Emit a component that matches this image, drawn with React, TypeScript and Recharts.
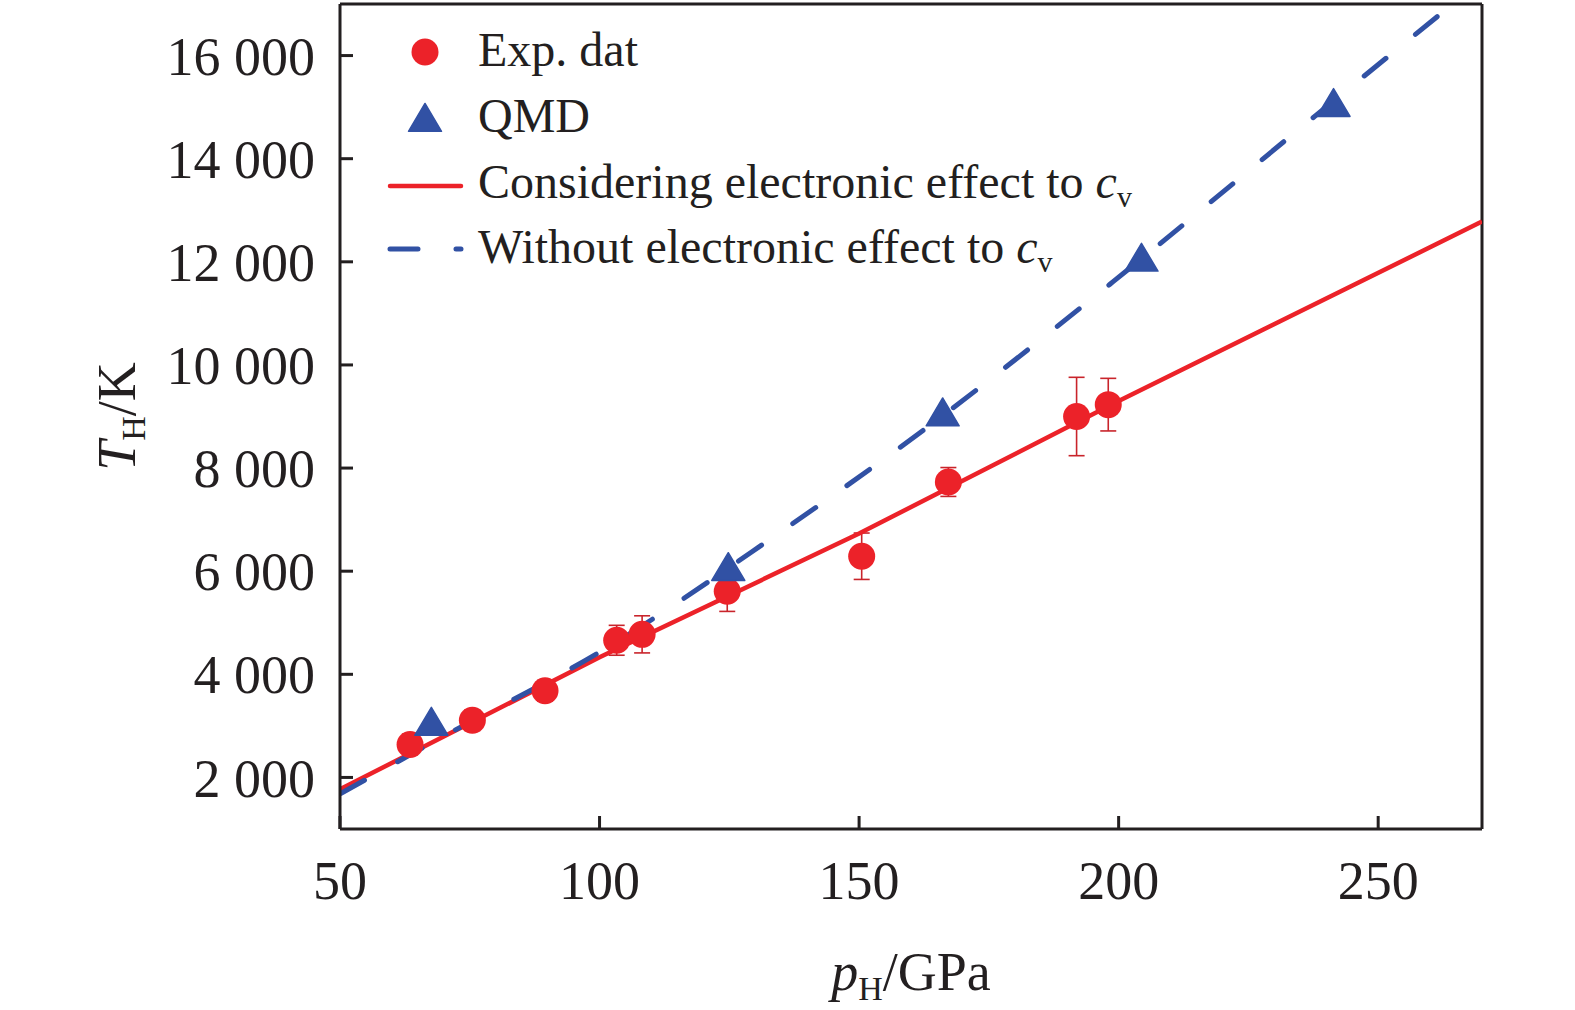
import React from 'react';
import { ComposedChart, Scatter, Line, XAxis, YAxis, ErrorBar, ReferenceLine } from 'recharts';

const RED = '#EC2229';
const ERR_RED = '#C9242B';
const BLUE = '#3151A4';
const INK = '#231F20';
const FONT = '"Liberation Serif", "Times New Roman", serif';

// Experimental data (pressure GPa, temperature K, error K)
const expP = [63.5, 75.5, 89.5, 103.3, 108.2, 124.6, 150.5, 167.2, 191.9, 198.0];
const expT = [2640, 3110, 3680, 4660, 4775, 5610, 6290, 7730, 9000, 9230];
const expErr = [200, 200, 200, 290, 360, 390, 450, 280, 760, 510];

// QMD results
const qmdP = [67.6, 124.8, 166.1, 204.4, 241.4];
const qmdT = [3000, 6000, 9000, 12000, 15000];

// Curve: considering electronic effect to c_v
const withP = [50, 100, 150, 200, 270];
const withT = [1770, 4330, 6730, 9300, 12780];

// Curve: without electronic effect to c_v
const withoutP = [50, 68, 102, 133, 163, 199, 238, 264];
const withoutT = [1680, 2690, 4550, 6630, 8780, 11620, 14840, 16970];

const xTicks = [50, 100, 150, 200, 250];
const yTicks = [2000, 4000, 6000, 8000, 10000, 12000, 14000, 16000];
const xDomain = [50, 270];
const yDomain = [1000, 17000];

const expData = expP.map((p, i) => ({ p, T: expT[i], err: expErr[i] }));
const qmdData = qmdP.map((p, i) => ({ p, T: qmdT[i] }));
const withData = withP.map((p, i) => ({ p, T: withT[i] }));
const withoutData = withoutP.map((p, i) => ({ p, T: withoutT[i] }));

const CircleShape = (props: any) => {
  const { cx, cy } = props;
  if (cx == null || cy == null) return null;
  return <circle cx={cx} cy={cy} r={13.5} fill={RED} />;
};

const TriShape = (props: any) => {
  const { cx, cy } = props;
  if (cx == null || cy == null) return null;
  const pts = `${cx},${cy - 18.5} ${cx + 16.5},${cy + 9.3} ${cx - 16.5},${cy + 9.3}`;
  return <polygon points={pts} fill={BLUE} stroke={BLUE} strokeWidth={1.5} strokeLinejoin="round" />;
};

const fmtY = (v: number) => `${v / 1000} 000`;

const YLabel = (props: any) => {
  const vb = props.viewBox || {};
  const cy = (vb.y ?? 0) + (vb.height ?? 0) / 2;
  const x = 135;
  return (
    <text
      transform={`translate(${x},${cy}) rotate(-90)`}
      textAnchor="middle"
      fontFamily={FONT}
      fontSize={54}
      fill={INK}
    >
      <tspan fontStyle="italic">T</tspan>
      <tspan fontSize={34} dy={10}>H</tspan>
      <tspan dy={-10}>/K</tspan>
    </text>
  );
};

const XLabel = (props: any) => {
  const vb = props.viewBox || {};
  const cx = (vb.x ?? 0) + (vb.width ?? 0) / 2;
  const y = (vb.y ?? 0) + 161;
  return (
    <text x={cx} y={y} textAnchor="middle" fontFamily={FONT} fontSize={54} fill={INK}>
      <tspan fontStyle="italic">p</tspan>
      <tspan fontSize={34} dy={10}>H</tspan>
      <tspan dy={-10}>/GPa</tspan>
    </text>
  );
};

const LegendOverlay = () => (
  <svg
    width={1575}
    height={1010}
    style={{ position: 'absolute', left: 0, top: 0, pointerEvents: 'none' }}
  >
    <g fontFamily={FONT} fontSize={48} fill={INK}>
      <circle cx={425} cy={52} r={13.5} fill={RED} />
      <text x={478} y={66}>Exp. dat</text>

      <polygon points="425,103.5 441.5,131.3 408.5,131.3" fill={BLUE} stroke={BLUE} strokeWidth={1.5} strokeLinejoin="round" />
      <text x={478} y={132}>QMD</text>

      <line x1={390} y1={186} x2={461} y2={186} stroke={RED} strokeWidth={4.5} strokeLinecap="round" />
      <text x={478} y={198}>
        Considering electronic effect to <tspan fontStyle="italic">c</tspan>
        <tspan fontSize={30} dy={9}>v</tspan>
      </text>

      <line x1={390} y1={249} x2={461} y2={249} stroke={BLUE} strokeWidth={5} strokeLinecap="round" strokeDasharray="28 38" />
      <text x={478} y={263}>
        Without electronic effect to <tspan fontStyle="italic">c</tspan>
        <tspan fontSize={30} dy={9}>v</tspan>
      </text>
    </g>
  </svg>
);

export default function App() {
  const tickStyle = { fontFamily: FONT, fontSize: 54, fill: INK };
  return (
    <div style={{ position: 'absolute', left: 0, top: 0, width: 1575, height: 1010, background: '#fff' }}>
      <ComposedChart
        width={1575}
        height={1010}
        margin={{ top: 4, right: 93, bottom: 0, left: 0 }}
      >
        <XAxis
          type="number"
          dataKey="p"
          domain={xDomain}
          ticks={xTicks}
          allowDataOverflow
          height={181}
          tick={tickStyle}
          tickSize={-13}
          tickMargin={45}
          axisLine={{ stroke: INK, strokeWidth: 3 }}
          tickLine={{ stroke: INK, strokeWidth: 3 }}
          label={<XLabel />}
        />
        <YAxis
          type="number"
          dataKey="T"
          domain={yDomain}
          ticks={yTicks}
          allowDataOverflow
          width={340}
          tick={tickStyle}
          tickFormatter={fmtY}
          tickSize={-13}
          tickMargin={38}
          axisLine={{ stroke: INK, strokeWidth: 3 }}
          tickLine={{ stroke: INK, strokeWidth: 3 }}
          label={<YLabel />}
        />
        <ReferenceLine y={yDomain[1]} stroke={INK} strokeWidth={3} ifOverflow="visible" />
        <ReferenceLine x={xDomain[1]} stroke={INK} strokeWidth={3} ifOverflow="visible" />
        <Scatter data={expData} dataKey="T" shape={<CircleShape />} isAnimationActive={false}>
          <ErrorBar dataKey="err" direction="y" width={8} stroke={ERR_RED} strokeWidth={1.6} isAnimationActive={false} />
        </Scatter>
        <Line
          data={withData}
          dataKey="T"
          type="linear"
          stroke={RED}
          strokeWidth={4.5}
          dot={false}
          activeDot={false}
          isAnimationActive={false}
        />
        <Line
          data={withoutData}
          dataKey="T"
          type="monotone"
          stroke={BLUE}
          strokeWidth={5}
          strokeDasharray="28 38"
          strokeLinecap="round"
          dot={false}
          activeDot={false}
          isAnimationActive={false}
        />
        <Scatter data={qmdData} dataKey="T" shape={<TriShape />} isAnimationActive={false} />
      </ComposedChart>
      <LegendOverlay />
    </div>
  );
}
